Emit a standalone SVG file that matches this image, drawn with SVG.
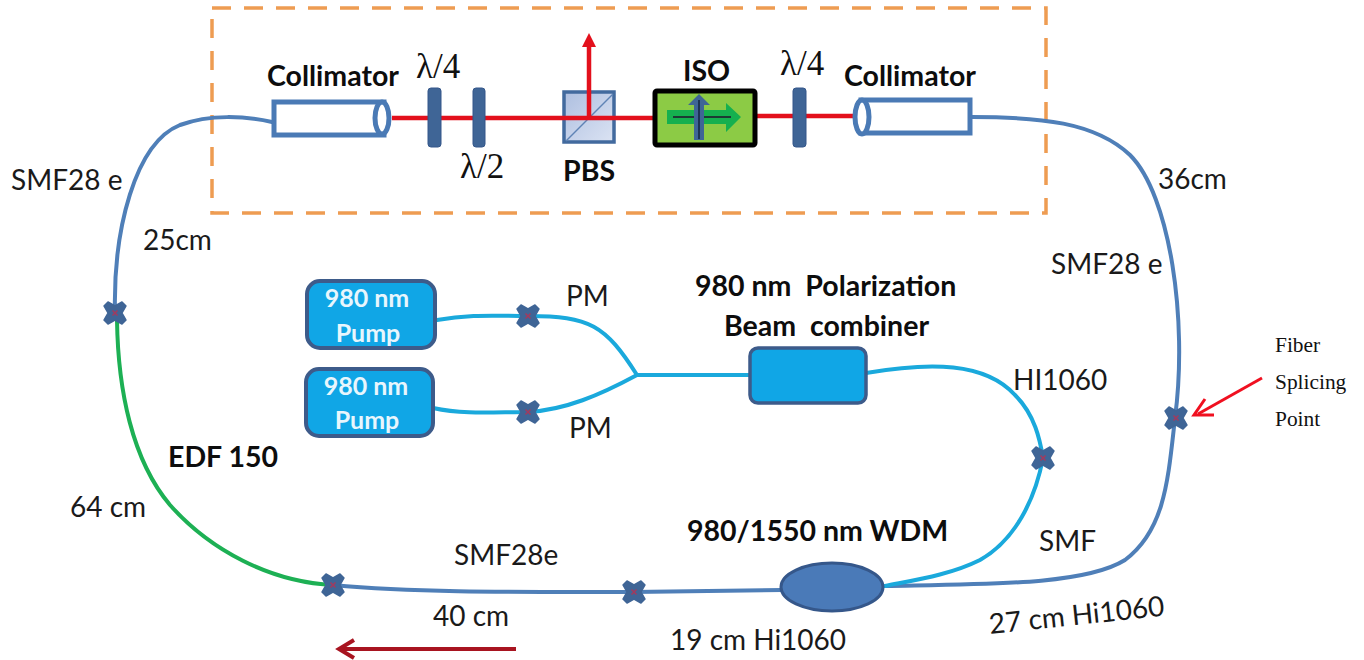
<svg xmlns="http://www.w3.org/2000/svg" xmlns:xlink="http://www.w3.org/1999/xlink" width="1364" height="660" viewBox="0 0 1364 660">
<style>
text{font-family:"Lato","Open Sans","Liberation Sans",sans-serif;fill:#1a1a1a;font-size:28px;white-space:pre}
.b{font-weight:700;fill:#0d0d0d;font-size:28.5px}
.w{font-weight:700;fill:#e8f6fd;font-size:25px;text-anchor:middle}
.s{font-family:"Liberation Serif",serif;font-size:21.4px;fill:#111}
.l{font-family:"Liberation Serif",serif;font-size:35px;fill:#111}
.f{fill:none;stroke:#4f7fb8;stroke-width:4;stroke-linecap:round}
.c{fill:none;stroke:#1aa9dc;stroke-width:4;stroke-linecap:round}
.g{fill:none;stroke:#1db054;stroke-width:4;stroke-linecap:round}
.r{fill:none;stroke:#e3101c;stroke-width:4.5}
.p{fill:#3f6596;stroke:#35578a;stroke-width:1}
.pump{fill:#10a6e6;stroke:#3d5b8a;stroke-width:4}
.col{fill:#fff;stroke:#4a7ab5;stroke-width:5}
</style>
<defs>
<linearGradient id="pbsfill" x1="0" y1="0" x2="1" y2="1"><stop offset="0" stop-color="#aebfe0"/><stop offset="1" stop-color="#dbe3f3"/></linearGradient>
<g id="x">
<path d="M-7-11-0-7 7-11 11-7 7 0 11 7 7 11 0 7-7 11-11 7-7 0-11-7Z" fill="#3f6596" stroke="#3f6596" stroke-width="1.500" stroke-linejoin="round"/>
<path d="M-2.500-2.500 2.500 2.500M2.500-2.500-2.500 2.500" stroke="#a33a5e" stroke-width="1.500"/>
</g>
</defs>
<rect id="enclosure" x="212" y="8" width="834" height="205" fill="none" stroke="#ee9c52" stroke-width="3.500" stroke-dasharray="19 13"/>
<g id="pbs"><rect x="564" y="92" width="50" height="50" fill="url(#pbsfill)" stroke="#426a9e" stroke-width="3.500"/><path d="M566 141 613 94" stroke="#5f83b5" stroke-width="1.500"/><text class="b" x="563" y="181">PBS</text></g>
<g id="connectors">
<path class="f" d="M272 122C245 116 210 114 180 125C135 143 113 230 115 313"/>
<path class="f" d="M972 117C1040 117 1095 122 1130 155C1170 195 1188 320 1175 418C1168 480 1165 530 1125 560C1085 585 990 584 885 586"/>
<path class="g" d="M117 320C118 390 132 460 170 505C210 550 270 582 333 585"/>
<path class="f" d="M333 585C420 593 520 592 633 592L782 590"/>
<path class="c" d="M437 320C470 314 495 316 528 316C590 316 605 325 637 375"/>
<path class="c" d="M433 408C465 415 495 412 528 412C565 410 600 395 637 375"/>
<path class="c" d="M637 375L750 375"/>
<path class="c" d="M866 373C930 362 985 362 1015 395C1035 415 1040 440 1043 458C1035 500 1015 540 980 560C950 575 915 580 885 586"/>
<path class="r" d="M392 118H430M441 118H474M485 118H655M756 116H794M806 116H854"/>
<path class="r" d="M589 118V42"/>
<path d="M589 33 596 47H582Z" fill="#e3101c"/>
<path d="M1262 378 1198 414" fill="none" stroke="#f01020" stroke-width="3"/>
<path d="M1205 399 1194 415 1214 415" fill="none" stroke="#f01020" stroke-width="3"/>
<path d="M516 649H342" fill="none" stroke="#a81420" stroke-width="4"/>
<path d="M354 640 339 649 354 658" fill="none" stroke="#a81420" stroke-width="4"/>
</g>
<g id="collimator-left"><rect class="col" x="274" y="102" width="110" height="33"/><ellipse class="col" cx="382" cy="118" rx="7" ry="16"/><text class="b" x="267" y="86">Collimator</text></g>
<g id="qwp-left"><rect class="p" x="428" y="88" width="13" height="59" rx="3"/><text class="l" x="416" y="78">λ/4</text></g>
<g id="hwp"><rect class="p" x="473" y="88" width="12" height="59" rx="3"/><text class="l" x="460" y="178">λ/2</text></g>
<g id="iso">
<rect x="655" y="91" width="100" height="54" rx="2" fill="#8ccb45" stroke="#000" stroke-width="5"/>
<path d="M667 110H726V103L741 117 726 132V124H667Z" fill="#15b04f"/>
<path d="M673 117H731" stroke="#1d3a34" stroke-width="2"/>
<path d="M694 140V105H688L699 94 710 105H704V140Z" fill="#3f6596"/>
<path d="M699 100V139" stroke="#12233f" stroke-width="1.500"/>
<text class="b" x="683" y="81">ISO</text></g>
<g id="qwp-right"><rect class="p" x="793" y="88" width="13" height="59" rx="3"/><text class="l" x="780" y="75">λ/4</text></g>
<g id="collimator-right"><rect class="col" x="861" y="100" width="109" height="33"/><ellipse class="col" cx="862" cy="117" rx="7" ry="17"/><text class="b" x="844" y="86">Collimator</text></g>
<g id="pump-1"><rect class="pump" x="307" y="281" width="128" height="67" rx="13"/><text class="w" x="367" y="307">980 nm</text><text class="w" x="368" y="342">Pump</text></g>
<g id="pump-2"><rect class="pump" x="306" y="369" width="127" height="67" rx="13"/><text class="w" x="366" y="395">980 nm</text><text class="w" x="367" y="429">Pump</text></g>
<g id="combiner"><rect x="750" y="348" width="116" height="55" rx="8" fill="#10a6e6" stroke="#3d5b8a" stroke-width="3.500"/></g>
<g id="wdm"><ellipse cx="832" cy="587" rx="51" ry="24" fill="#4a7ab8" stroke="#35578a" stroke-width="3"/></g>
<g id="splices">
<use xlink:href="#x" href="#x" x="115" y="313"/>
<use xlink:href="#x" href="#x" x="528" y="316"/>
<use xlink:href="#x" href="#x" x="528" y="412"/>
<use xlink:href="#x" href="#x" x="1043" y="458"/>
<use xlink:href="#x" href="#x" x="1176" y="418"/>
<use xlink:href="#x" href="#x" x="333" y="585"/>
<use xlink:href="#x" href="#x" x="634" y="592"/>
</g>
<g id="labels">
<text x="11" y="190">SMF28 e</text>
<text x="143" y="250">25cm</text>
<text x="1158" y="189">36cm</text>
<text x="1051" y="274">SMF28 e</text>
<text x="566" y="306">PM</text>
<text x="569" y="438">PM</text>
<text class="b" x="695" y="296">980 nm  Polarization</text>
<text class="b" x="724" y="336">Beam  combiner</text>
<text x="1013" y="390">HI1060</text>
<text class="b" x="168" y="467">EDF 150</text>
<text x="70" y="517">64 cm</text>
<text class="b" x="687" y="541">980/1550 nm WDM</text>
<text x="454" y="565">SMF28e</text>
<text x="1039" y="551">SMF</text>
<text x="433" y="626">40 cm</text>
<text x="670" y="650">19 cm Hi1060</text>
<text x="990" y="634" transform="rotate(-6 990 634)">27 cm Hi1060</text>
<text class="s" x="1275" y="352">Fiber</text>
<text class="s" x="1275" y="389">Splicing</text>
<text class="s" x="1275" y="426">Point</text>
</g>
</svg>
